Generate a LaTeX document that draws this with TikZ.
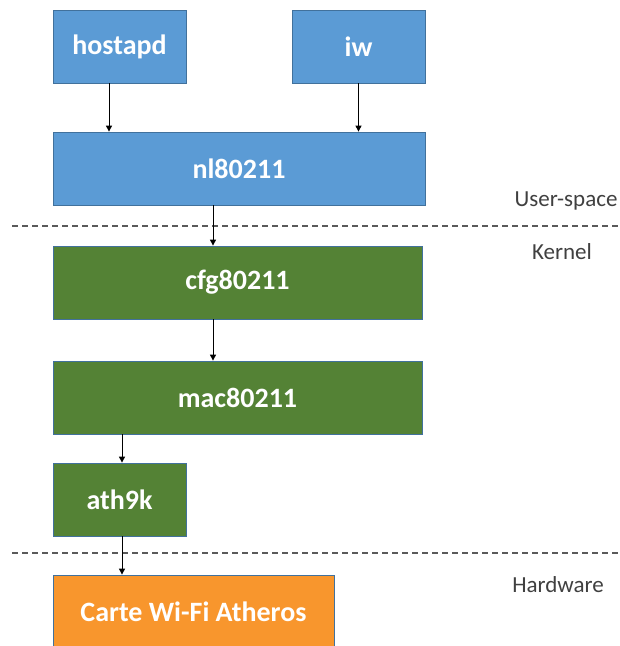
\documentclass[tikz,border=0pt]{standalone}
\usepackage{fontspec}
\setmainfont{Carlito}
\usetikzlibrary{arrows.meta}
\definecolor{userblue}{RGB}{91,155,213}
\definecolor{kerngreen}{RGB}{84,130,53}
\definecolor{hworange}{RGB}{248,150,45}
\definecolor{edgeblue}{RGB}{65,113,156}
\definecolor{labelgray}{RGB}{64,64,64}
\definecolor{sepgray}{RGB}{90,90,90}

\begin{document}
\begin{tikzpicture}[x=1pt,y=-1pt]
    \tikzset{
    blk/.style={rectangle,draw=edgeblue,line width=0.8pt,minimum height=73pt,inner sep=0pt,text=white,font=\fontsize{28}{30}\selectfont\bfseries},
    usr/.style={blk,fill=userblue},
    krn/.style={blk,fill=kerngreen},
    hw/.style={blk,fill=hworange},
    lvl/.style={text=labelgray,font=\fontsize{23}{26}\selectfont},
    arr/.style={-{Triangle[length=6pt,width=6pt]},line width=1pt},
    sep/.style={sepgray,line width=1.3pt,dash pattern=on 6pt off 4pt},
    }
    \useasboundingbox (0,0) rectangle (620,646);

    \node[usr,minimum width=133pt] (hostapd) at (119.5,46.5) {hostapd};
    \node[usr,minimum width=133pt] (iw) at (358.5,46.5) {iw};
    \node[usr,minimum width=372pt] (nl) at (239,168.5) {nl80211};
    \node[krn,minimum width=369pt] (cfg) at (237.5,282.5) {cfg80211};
    \node[krn,minimum width=369pt] (mac) at (237.5,397.5) {mac80211};
    \node[krn,minimum width=133pt] (ath) at (119.5,499.5) {ath9k};
    \node[hw,minimum width=281pt] (carte) at (193.5,611.5) {Carte Wi-Fi Atheros};

    \node[lvl] (user) at (566,201) {User-space};
    \node[lvl] (kernel) at (562,252) {Kernel};
    \node[lvl] (hard) at (558,585) {Hardware};

    \draw[sep] (12,226) -- (620,226);
    \draw[sep] (12,553) -- (620,553);

    \draw[arr] ([xshift=-10.5pt]hostapd.south) -- ([xshift=-10.5pt]hostapd.south |- nl.north);
    \draw[arr] (iw.south) -- (iw.south |- nl.north);
    \draw[arr] ([xshift=-26pt]nl.south) -- ([xshift=-26pt]nl.south |- cfg.north);
    \draw[arr] ([xshift=-24.5pt]cfg.south) -- ([xshift=-24.5pt]cfg.south |- mac.north);
    \draw[arr] ([xshift=2.5pt]ath.north |- mac.south) -- ([xshift=2.5pt]ath.north);
    \draw[arr] ([xshift=2.5pt]ath.south) -- ([xshift=2.5pt]ath.south |- carte.north);
\end{tikzpicture}
\end{document}
